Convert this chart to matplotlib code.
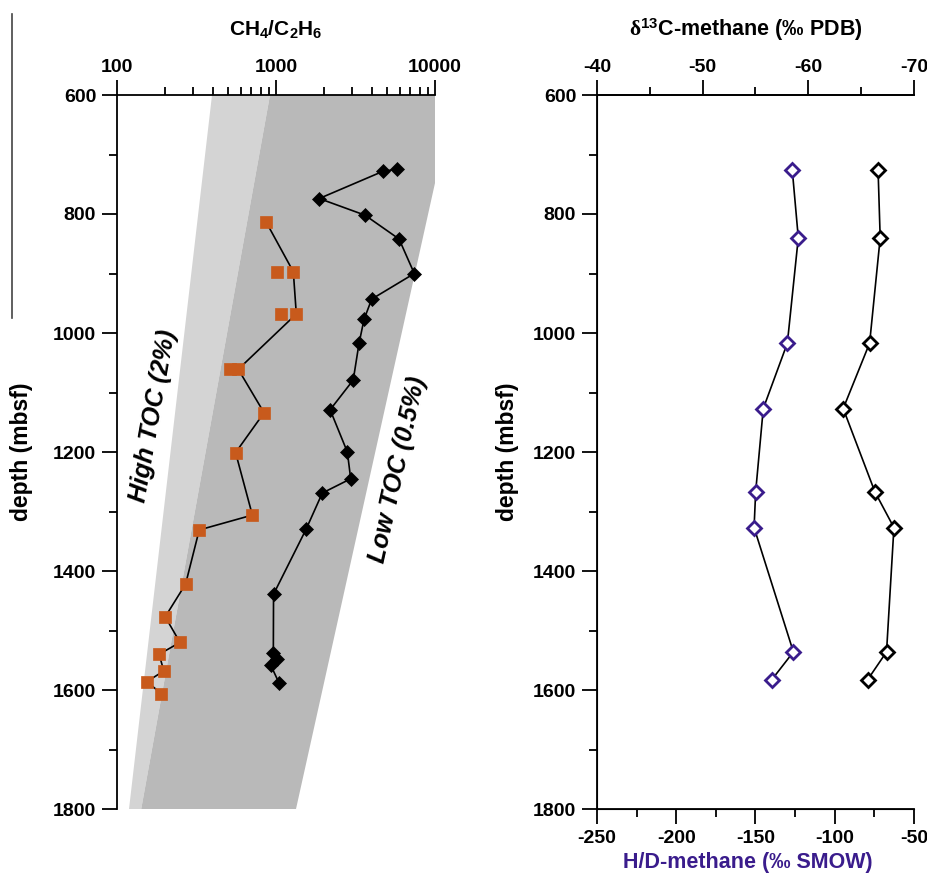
import matplotlib
matplotlib.use("Agg")
import matplotlib.pyplot as plt
from matplotlib.lines import Line2D
from matplotlib.ticker import FixedLocator, NullFormatter
import numpy as np

plt.rcParams['font.family'] = ['Liberation Sans', 'DejaVu Sans']
plt.rcParams['font.weight'] = 'bold'
plt.rcParams['mathtext.fontset'] = 'custom'
plt.rcParams['mathtext.rm'] = 'Liberation Serif'
plt.rcParams['mathtext.bf'] = 'Liberation Sans:bold'
plt.rcParams['mathtext.it'] = 'Liberation Serif:italic'

# ---------------- data ----------------
# Left panel: CH4/C2H6 ratio vs depth
black_depth = [725, 728, 774, 802, 842, 900, 943, 977, 1017, 1079, 1129, 1200, 1245, 1269, 1330,
               1439, 1538, 1548, 1558, 1588]
black_ratio = [5740, 4730, 1870, 3630, 5940, 7410, 4000, 3580, 3330, 3060, 2190, 2810, 2950, 1955, 1545,
               965, 962, 1010, 926, 1044]

orange_depth = [813, 897, 968, 1061, 1134, 1201, 1306, 1331, 1422, 1477, 1520, 1540, 1568, 1586, 1606]
orange_ratio = [865, 1285, 1342, 579, 841, 557, 710, 329, 270, 201, 249, 184, 197, 154, 190]
# unconnected orange duplicates
orange_extra_depth = [897, 968, 1061]
orange_extra_ratio = [1010, 1075, 514]

# TOC envelopes (ratio at depth)
high_toc_ratio = [396, 917, 142, 119]
high_toc_depth = [600, 600, 1800, 1800]
low_toc_ratio = [917, 10000, 10000, 1336, 142]
low_toc_depth = [600, 600, 748, 1800, 1800]

# Right panel: isotopes
iso_depth = [726, 840, 1017, 1127, 1267, 1327, 1536, 1583]
d13c = [-66.6, -66.8, -65.8, -63.3, -66.3, -68.1, -67.4, -65.6]
hd = [-126.8, -123.0, -129.9, -145.1, -149.9, -150.9, -126.1, -139.8]

depth_ticks = [600, 800, 1000, 1200, 1400, 1600, 1800]
ratio_ticks = [100, 1000, 10000]
d13c_ticks = [-40, -50, -60, -70]
hd_ticks = [-250, -200, -150, -100, -50]

# ---------------- styles ----------------
ORANGE = '#c85a1c'
PURPLE = '#3a1c8c'
LIGHT = '#d4d4d4'
DARK = '#b9b9b9'
FS = 14

W, H = 928, 877
fig = plt.figure(figsize=(W / 100, H / 100), dpi=100)

def frac(x0, y0, x1, y1):
    return [x0 / W, 1 - y1 / H, (x1 - x0) / W, (y1 - y0) / H]

def style_depth_axis(ax, pad=10):
    ax.set_ylim(1800, 600)
    ax.yaxis.set_major_locator(FixedLocator(depth_ticks))
    ax.yaxis.set_minor_locator(FixedLocator(np.arange(700, 1800, 200)))
    ax.tick_params(axis='y', which='major', direction='out', length=11, width=1.3, labelsize=FS, pad=4)
    ax.tick_params(axis='y', which='minor', direction='out', length=5.5, width=1.3)
    ax.set_ylabel('depth (mbsf)', fontsize=16.5, fontweight='bold', labelpad=pad)
    for lab in ax.get_yticklabels():
        lab.set_fontweight('bold')

# ---------------- left panel ----------------
ax1 = fig.add_axes(frac(117, 95, 435, 809))
ax1.set_xscale('log')
ax1.set_xlim(100, 10000)
style_depth_axis(ax1, pad=14)
ax1.fill(high_toc_ratio, high_toc_depth, color=LIGHT, lw=0, zorder=1)
ax1.fill(low_toc_ratio, low_toc_depth, color=DARK, lw=0, zorder=1)

ax1.plot(orange_ratio, orange_depth, '-', color='black', lw=1.2, zorder=3,
         marker='s', ms=8.8, mfc=ORANGE, mec=ORANGE, mew=0.5)
ax1.plot(orange_extra_ratio, orange_extra_depth, ls='none', marker='s', ms=8.8,
         mfc=ORANGE, mec=ORANGE, mew=0.5, zorder=4)
ax1.plot(black_ratio, black_depth, '-', color='black', lw=1.2, zorder=3,
         marker='D', ms=7.6, mfc='black', mec='black', mew=0.5)

ax1.xaxis.tick_top()
ax1.xaxis.set_label_position('top')
ax1.xaxis.set_major_locator(FixedLocator(ratio_ticks))
ax1.set_xticklabels([str(t) for t in ratio_ticks], fontweight='bold')
ax1.xaxis.set_minor_formatter(NullFormatter())
ax1.tick_params(axis='x', which='major', direction='out', length=11, width=1.3, labelsize=FS, pad=3)
ax1.tick_params(axis='x', which='minor', direction='out', length=5.5, width=1.3)
ax1.set_xlabel('CH$_\\mathbf{4}$/C$_\\mathbf{2}$H$_\\mathbf{6}$', fontsize=15, fontweight='bold', labelpad=17)
for s in ['right', 'bottom']:
    ax1.spines[s].set_visible(False)
for s in ['left', 'top']:
    ax1.spines[s].set_linewidth(1.3)

ax1.text(170, 1139, 'High TOC (2%)', rotation=80, fontsize=18, fontweight='bold', style='italic',
         ha='center', va='center', zorder=5)
ax1.text(5850, 1230, 'Low TOC (0.5%)', rotation=77.5, fontsize=18, fontweight='bold', style='italic',
         ha='center', va='center', zorder=5)

# ---------------- right panel ----------------
ax2 = fig.add_axes(frac(597, 95, 914, 809))
ax2.set_xlim(-250, -50)
style_depth_axis(ax2)
ax2.plot(hd, iso_depth, '-', color='black', lw=1.2, zorder=3,
         marker='D', ms=7.3, mfc='white', mec=PURPLE, mew=2.0)
ax2.xaxis.set_major_locator(FixedLocator(hd_ticks))
ax2.xaxis.set_minor_locator(FixedLocator(np.arange(-225, -50, 50)))
ax2.set_xticklabels([str(t) for t in hd_ticks], fontweight='bold')
ax2.tick_params(axis='x', which='major', direction='out', length=11, width=1.3, labelsize=FS, pad=4)
ax2.tick_params(axis='x', which='minor', direction='out', length=5.5, width=1.3)
ax2.set_xlabel('H/D-methane (‰ SMOW)', fontsize=15.5, fontweight='bold', color=PURPLE, labelpad=4)
ax2.xaxis.label.set_x(0.475)
ax2.spines['right'].set_visible(False)
for s in ['left', 'top', 'bottom']:
    ax2.spines[s].set_linewidth(1.3)

ax3 = ax2.twiny()
ax3.set_xlim(-40, -70)
ax3.plot(d13c, iso_depth, '-', color='black', lw=1.2, zorder=3,
         marker='D', ms=7.3, mfc='white', mec='black', mew=2.0)
ax3.set_ylim(1800, 600)
ax3.xaxis.set_major_locator(FixedLocator(d13c_ticks))
ax3.xaxis.set_minor_locator(FixedLocator([-45, -55, -65]))
ax3.set_xticklabels([str(t) for t in d13c_ticks], fontweight='bold')
ax3.tick_params(axis='x', which='major', direction='out', length=11, width=1.3, labelsize=FS, pad=3)
ax3.tick_params(axis='x', which='minor', direction='out', length=5.5, width=1.3)
ax3.set_xlabel('$\\mathrm{\\delta}^{\\mathbf{13}}$C-methane (‰ PDB)', fontsize=15.5, fontweight='bold', labelpad=16)
ax3.xaxis.label.set_x(0.47)
ax3.spines['right'].set_visible(False)
ax3.spines['top'].set_linewidth(1.3)

# stray frame line at far left
fig.add_artist(Line2D([12 / W, 12 / W], [1 - 14 / H, 1 - 318 / H], color='#444444', lw=1.2))

fig.savefig('out.png', dpi=100)
